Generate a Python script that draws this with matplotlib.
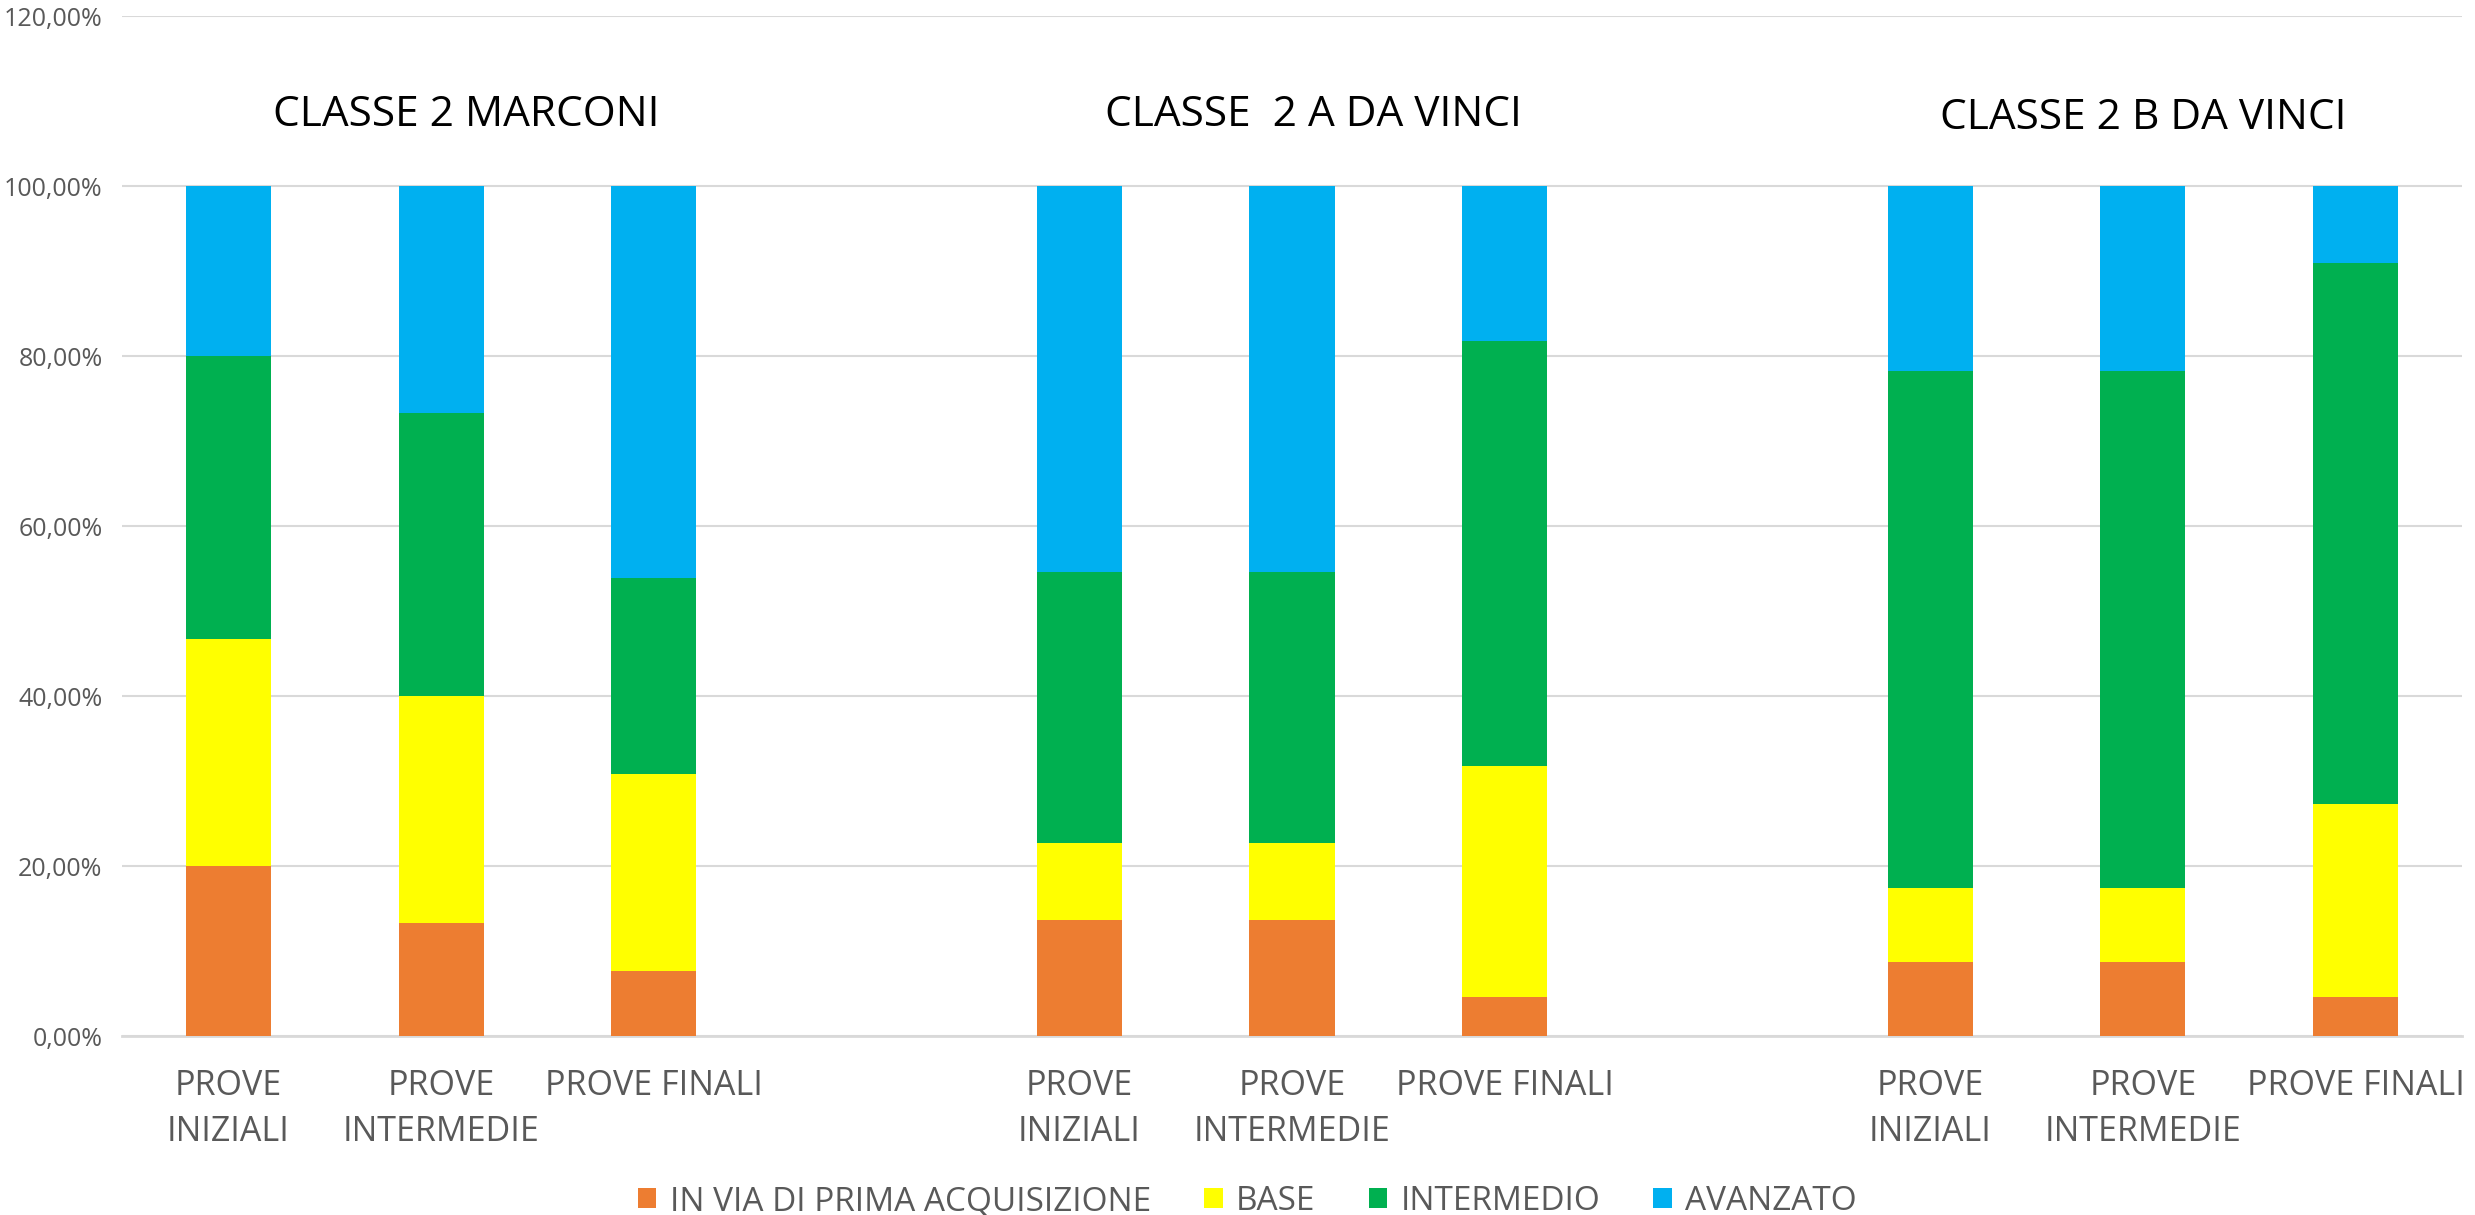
#----------------------------------------------------------------------
# import libraries
#----------------------------------------------------------------------

import numpy as np
import matplotlib.pyplot as plt
from matplotlib.ticker import FuncFormatter

#----------------------------------------------------------------------
# data: percentages per class and test (blank slots separate classes)
#----------------------------------------------------------------------

categories = ["PROVE\nINIZIALI", "PROVE\nINTERMEDIE", "PROVE FINALI", "",
              "PROVE\nINIZIALI", "PROVE\nINTERMEDIE", "PROVE FINALI", "",
              "PROVE\nINIZIALI", "PROVE\nINTERMEDIE", "PROVE FINALI"]

in_via = [20.00, 13.33, 7.69, 0, 13.64, 13.64, 4.55, 0, 8.70, 8.70, 4.55]
base = [26.67, 26.67, 23.08, 0, 9.09, 9.09, 27.27, 0, 8.70, 8.70, 22.73]
intermedio = [33.33, 33.33, 23.08, 0, 31.82, 31.82, 50.00, 0, 60.87, 60.87, 63.64]
avanzato = [20.00, 26.67, 46.15, 0, 45.45, 45.45, 18.18, 0, 21.74, 21.74, 9.09]

series_names = ["IN VIA DI PRIMA ACQUISIZIONE", "BASE", "INTERMEDIO", "AVANZATO"]
series_colors = ["#ED7D31", "#FFFF00", "#00B050", "#00B0F0"]

class_titles = ["CLASSE 2 MARCONI", "CLASSE  2 A DA VINCI", "CLASSE 2 B DA VINCI"]
title_x = [1.12, 5.1, 9.0]
title_y = [108.3, 108.3, 108.0]

#----------------------------------------------------------------------
# plotting
#----------------------------------------------------------------------

plt.rcParams['font.family'] = ['Open Sans', 'DejaVu Sans']

fig = plt.figure(figsize=(24.75, 12.15), dpi=100)
ax = fig.add_axes([122 / 2475, 0.1473, (2462 - 122) / 2475, 0.9868 - 0.1473])

x = np.arange(len(categories))
bottom = np.zeros(len(categories))
for vals, name, col in zip([in_via, base, intermedio, avanzato], series_names, series_colors):
    ax.bar(x, vals, width=0.4, bottom=bottom, color=col, label=name, zorder=3)
    bottom += np.array(vals)

for t, tx, ty in zip(class_titles, title_x, title_y):
    ax.text(tx, ty, t, ha='center', va='center', fontsize=30.5, color='black')

ax.set_xlim(-0.5, len(categories) - 0.5)
ax.set_ylim(0, 120)
ax.set_yticks(np.arange(0, 121, 20))
ax.yaxis.set_major_formatter(FuncFormatter(lambda v, p: f"{v:.2f}%".replace('.', ',')))
ax.set_xticks(x)
ax.set_xticklabels(categories, fontsize=24.5, color='#595959', linespacing=1.45)
ax.tick_params(axis='y', labelsize=18, labelcolor='#595959', length=0, pad=14)
ax.tick_params(axis='x', length=0, pad=24)
ax.grid(axis='y', color='#D9D9D9', linewidth=1.5, zorder=0)
for s in ['top', 'right', 'left']:
    ax.spines[s].set_visible(False)
ax.spines['bottom'].set_color('#D9D9D9')
ax.spines['bottom'].set_linewidth(2)

leg = fig.legend(loc='center', bbox_to_anchor=(0.504, 0.011), ncol=4, frameon=False,
                 fontsize=24, handlelength=0.55, handleheight=0.55, columnspacing=1.6,
                 handletextpad=0.4)
for txt in leg.get_texts():
    txt.set_color('#595959')

plt.savefig('out.png', dpi=100)
